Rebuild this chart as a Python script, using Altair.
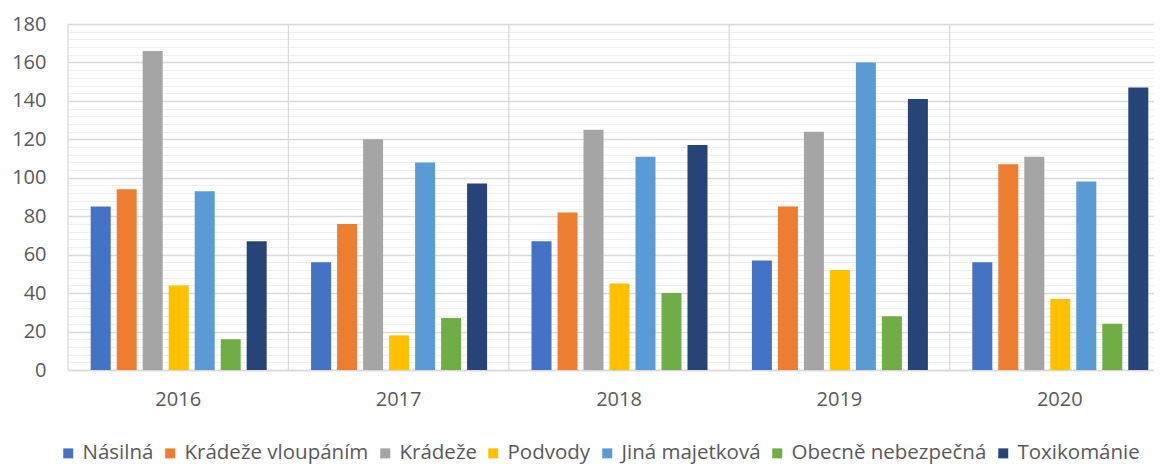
import altair as alt
import pandas as pd

years = ["2016", "2017", "2018", "2019", "2020"]
categories = ["Násilná", "Krádeže vloupáním", "Krádeže", "Podvody",
              "Jiná majetková", "Obecně nebezpečná", "Toxikománie"]
colors = ["#4472C4", "#ED7D31", "#A5A5A5", "#FFC000", "#5B9BD5", "#70AD47", "#264478"]

nasilna = [85, 56, 67, 57, 56]
kradeze_vloupanim = [94, 76, 82, 85, 107]
kradeze = [166, 120, 125, 124, 111]
podvody = [44, 18, 45, 52, 37]
jina_majetkova = [93, 108, 111, 160, 98]
obecne_nebezpecna = [16, 27, 40, 28, 24]
toxikomanie = [67, 97, 117, 141, 147]

series = [nasilna, kradeze_vloupanim, kradeze, podvody,
          jina_majetkova, obecne_nebezpecna, toxikomanie]

rows = []
for cat, vals in zip(categories, series):
    for y, v in zip(years, vals):
        rows.append({"rok": y, "kategorie": cat, "pocet": v})
df = pd.DataFrame(rows)
df_years = pd.DataFrame({"rok": years})

FONT = "Open Sans"
TXT = "#595959"

xscale = alt.Scale(domain=years, range=[0, 1102], paddingInner=0, paddingOuter=0)
xaxis = alt.Axis(labelAngle=0, ticks=False, labelFont=FONT, labelFontSize=20,
                 labelColor=TXT, labelPadding=19, domainColor="#d9d9d9",
                 domainWidth=1.5, grid=False)

bars = alt.Chart(df).mark_bar().encode(
    x=alt.X("rok:N", scale=xscale, title=None, axis=xaxis),
    xOffset=alt.XOffset("kategorie:N", sort=categories,
                        scale=alt.Scale(domain=categories, range=[22.7, 198.7], paddingInner=0.23)),
    y=alt.Y("pocet:Q", title=None,
            scale=alt.Scale(domain=[0, 180], nice=False),
            axis=alt.Axis(values=list(range(0, 181, 4)), ticks=False, domain=False,
                          labelExpr="datum.value % 20 === 0 ? datum.label : ''",
                          labelFont=FONT, labelFontSize=20, labelColor=TXT, labelPadding=22,
                          gridColor={"condition": {"test": "datum.value % 20 === 0", "value": "#d9d9d9"},
                                     "value": "#efefef"},
                          gridWidth={"condition": {"test": "datum.value % 20 === 0", "value": 1.3},
                                     "value": 1})),
    color=alt.Color("kategorie:N", sort=categories,
                    scale=alt.Scale(domain=categories, range=colors),
                    legend=alt.Legend(title=None, orient="none", direction="horizontal", columns=7,
                                      legendX=-10, legendY=419, symbolType="square", symbolSize=100,
                                      symbolStrokeWidth=0, labelFont=FONT, labelFontSize=20.5,
                                      labelColor=TXT, labelLimit=0, labelOffset=4,
                                      columnPadding=6)),
)

bounds = alt.Chart(df_years).mark_rule(color="#d9d9d9", strokeWidth=1.3).encode(
    x=alt.X("rok:N", scale=xscale, bandPosition=0, title=None, axis=xaxis)
)

chart = alt.layer(bars, bounds).properties(
    width=1086, height=346,
    autosize=alt.AutoSizeParams(type="none"),
    padding={"left": 60, "top": 16, "right": 0, "bottom": 96},
).configure_view(stroke=None)

chart.save("out.html", embed_options={"renderer": "svg", "actions": False})
